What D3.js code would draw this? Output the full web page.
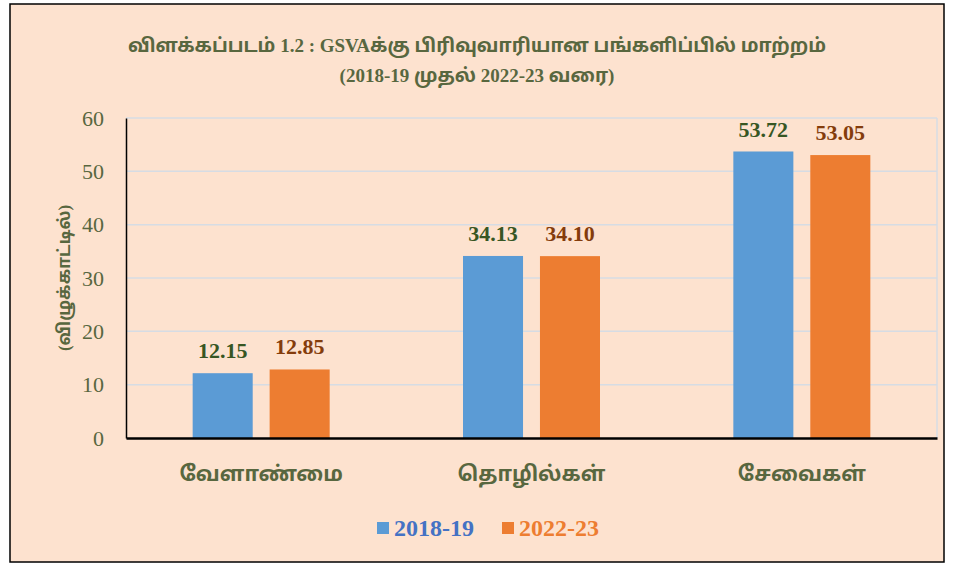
<!DOCTYPE html>
<html lang="ta">
<head>
<meta charset="UTF-8">
<title>GSVA sector share</title>
<script src="https://d3js.org/d3.v7.min.js"></script>
<style>
  body { margin: 0; background: #fff; }
  svg text { font-family: "Liberation Serif", "Noto Sans Tamil", "Noto Sans", serif; }
</style>
</head>
<body>
<div id="chart"></div>
<script>
// data
var sectors = ["வேளாண்மை", "தொழில்கள்", "சேவைகள்"];
var years = ["2018-19", "2022-23"];
var share2018 = [12.15, 34.13, 53.72];
var share2022 = [12.85, 34.10, 53.05];
var yTicks = [0, 10, 20, 30, 40, 50, 60];

var W = 955, H = 567;
var margin = { top: 118, right: 18, bottom: 129, left: 126 };
var width = W - margin.left - margin.right;
var height = H - margin.top - margin.bottom;

var seriesColor = ["#5b9bd5", "#ed7d31"];
var labelColor = ["#375623", "#843c0c"];
var legendText = ["#4472c4", "#ed7d31"];
var olive = "#58673f";

var svg = d3.select("#chart").append("svg")
  .attr("width", W).attr("height", H);

svg.append("rect")
  .attr("x", 10).attr("y", 4)
  .attr("width", 934).attr("height", 558)
  .attr("fill", "#fde2cf")
  .attr("stroke", "#000").attr("stroke-width", 1.5);

// title
svg.append("text")
  .attr("x", 477).attr("y", 52)
  .attr("text-anchor", "middle")
  .attr("font-size", 19).attr("font-weight", "bold")
  .attr("fill", olive)
  .text("விளக்கப்படம் 1.2 : GSVAக்கு பிரிவுவாரியான பங்களிப்பில் மாற்றம்");
svg.append("text")
  .attr("x", 477).attr("y", 82)
  .attr("text-anchor", "middle")
  .attr("font-size", 19).attr("font-weight", "bold")
  .attr("fill", olive)
  .text("(2018-19 முதல் 2022-23 வரை)");

var g = svg.append("g")
  .attr("transform", "translate(" + margin.left + "," + margin.top + ")");

var x0 = d3.scaleBand().domain(sectors).range([0, width]).padding(0);
var x1 = d3.scaleBand().domain(years).range([0, 137]).paddingInner(0.22);
var y = d3.scaleLinear().domain([0, 60]).range([height, 0]);

// gridlines
g.append("g")
  .selectAll("line")
  .data(yTicks.slice(1))
  .enter().append("line")
  .attr("x1", 0).attr("x2", width)
  .attr("y1", function(d) { return y(d); })
  .attr("y2", function(d) { return y(d); })
  .attr("stroke", "#d6dce4").attr("stroke-width", 1.5);
g.append("line")
  .attr("x1", width).attr("x2", width)
  .attr("y1", 0).attr("y2", height)
  .attr("stroke", "#d6dce4").attr("stroke-width", 1.5);

// y axis
var yAxis = g.append("g")
  .call(d3.axisLeft(y).tickValues(yTicks).tickSize(0).tickPadding(22));
yAxis.select(".domain").attr("stroke", "#000").attr("stroke-width", 1.5);
yAxis.selectAll("text")
  .attr("font-size", 22)
  .attr("fill", olive)
  .attr("font-family", "Liberation Serif");

svg.append("text")
  .attr("transform", "translate(64," + (margin.top + height / 2) + ") rotate(-90)")
  .attr("text-anchor", "middle")
  .attr("dy", "0.35em")
  .attr("font-size", 17).attr("font-weight", "bold")
  .attr("fill", olive)
  .text("(விழுக்காட்டில்)");

var rows = sectors.map(function(s, i) {
  return { sector: s, values: [share2018[i], share2022[i]] };
});

var groups = g.selectAll(".grp")
  .data(rows)
  .enter().append("g")
  .attr("class", "grp")
  .attr("transform", function(d) {
    return "translate(" + (x0(d.sector) + x0.bandwidth() / 2 - 68.5) + ",0)";
  });

groups.selectAll("rect")
  .data(function(d) { return d.values.map(function(v, j) { return { year: years[j], v: v, j: j }; }); })
  .enter().append("rect")
  .attr("x", function(d) { return x1(d.year); })
  .attr("y", function(d) { return y(d.v); })
  .attr("width", x1.bandwidth())
  .attr("height", function(d) { return height - y(d.v); })
  .attr("fill", function(d) { return seriesColor[d.j]; });

groups.selectAll(".val")
  .data(function(d) { return d.values.map(function(v, j) { return { year: years[j], v: v, j: j }; }); })
  .enter().append("text")
  .attr("class", "val")
  .attr("x", function(d) { return x1(d.year) + x1.bandwidth() / 2; })
  .attr("y", function(d) { return y(d.v) - 15; })
  .attr("text-anchor", "middle")
  .attr("font-size", 22).attr("font-weight", "bold")
  .attr("fill", function(d) { return labelColor[d.j]; })
  .text(function(d) { return d.v.toFixed(2); });

// x axis
var xAxis = g.append("g")
  .attr("transform", "translate(0," + height + ")")
  .call(d3.axisBottom(x0).tickSize(0).tickPadding(28));
xAxis.select(".domain").attr("stroke", "#000").attr("stroke-width", 2.5);
xAxis.selectAll("text")
  .attr("font-size", 21).attr("font-weight", "bold")
  .attr("fill", olive)
  .attr("dy", "0.71em");

// legend
var legend = svg.append("g").attr("transform", "translate(377,522)");
var lx = [0, 125];
years.forEach(function(yr, i) {
  legend.append("rect")
    .attr("x", lx[i]).attr("y", 0)
    .attr("width", 12).attr("height", 12)
    .attr("fill", seriesColor[i]);
  legend.append("text")
    .attr("x", lx[i] + 17).attr("y", 14)
    .attr("font-size", 24).attr("font-weight", "bold")
    .attr("fill", legendText[i])
    .text(yr);
});
</script>
</body>
</html>
